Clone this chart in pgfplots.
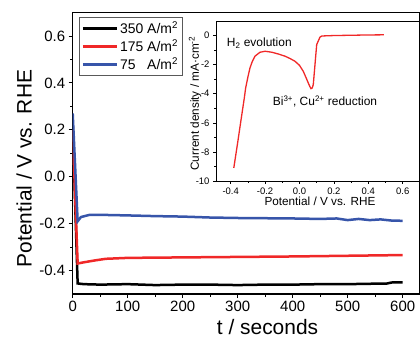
\documentclass[border=0pt]{standalone}
\usepackage{pgfplots}
\pgfplotsset{compat=1.18}
\usepackage{fontspec}
\setmainfont{Liberation Sans}
\definecolor{cred}{RGB}{240,40,40}
\definecolor{cblue}{RGB}{55,85,170}
\begin{document}
\begin{tikzpicture}
\useasboundingbox (0,0) rectangle (420bp,340bp);
\begin{axis}[
  at={(72.7bp,46bp)}, anchor=south west,
  scale only axis, width=347.3bp, height=281.5bp,
  xmin=0, xmax=631.5, ymin=-0.5, ymax=0.7,
  xtick={0,100,...,600}, ytick={-0.4,-0.2,0,0.2,0.4,0.6},
  minor x tick num=1, minor y tick num=1,
  tick align=outside, xtick pos=bottom, ytick pos=left,
  major tick length=4bp, minor tick length=2.5bp,
  every tick/.style={black, line width=0.9bp},
  axis line style={line width=1.1bp},
  /pgf/number format/assume math mode=true,
  yticklabel style={/pgf/number format/fixed, /pgf/number format/zerofill, /pgf/number format/precision=1},
  ticklabel style={font=\fontsize{15}{18}\selectfont},
  xlabel={t / seconds}, ylabel={Potential / V vs. RHE},
  label style={font=\fontsize{21}{25}\selectfont},
  xlabel style={at={(axis description cs:0.561,-0.143)}, anchor=base},
  ylabel style={at={(axis description cs:-0.140,0.446)}, anchor=center},
  legend style={at={(axis description cs:0.019,0.983)}, anchor=north west,
    font=\fontsize{14}{17}\selectfont, draw=gray!70!black, line width=0.6bp,
    inner xsep=2bp, inner ysep=2bp, row sep=0.5bp},
  legend cell align=left,
  legend image code/.code={\draw[#1] (0bp,0bp) -- (34bp,0bp);},
]
\addplot[black, line width=2.5bp] coordinates {
(0,0.22) (9,-0.455) (20,-0.458) (50,-0.46) (100,-0.458) (150,-0.462) (200,-0.46) (250,-0.46) (300,-0.462) (350,-0.46) (400,-0.46) (450,-0.458) (500,-0.458) (550,-0.456) (570,-0.456) (580,-0.451) (600,-0.45)};
\addlegendentry{350 A/m\textsuperscript{2}}
\addplot[cred, line width=2.5bp] coordinates {
(0,0.2) (9,-0.37) (20,-0.365) (40,-0.357) (60,-0.35) (100,-0.346) (150,-0.345) (200,-0.344) (300,-0.342) (400,-0.34) (500,-0.337) (600,-0.334)};
\addlegendentry{175 A/m\textsuperscript{2}}
\addplot[cblue, line width=2.5bp] coordinates {
(0,0.27) (9,-0.19) (15,-0.172) (30,-0.163) (60,-0.163) (100,-0.165) (150,-0.168) (200,-0.17) (250,-0.174) (300,-0.176) (350,-0.177) (400,-0.178) (450,-0.18) (480,-0.178) (500,-0.185) (520,-0.18) (540,-0.185) (560,-0.182) (580,-0.187) (600,-0.188)};
\addlegendentry{75\ \ \ A/m\textsuperscript{2}}
\end{axis}
\begin{axis}[
  at={(216bp,159bp)}, anchor=south west,
  scale only axis, width=203bp, height=160bp,
  xmin=-0.4855, xmax=0.6948, ymin=-10, ymax=1,
  axis background/.style={fill=white},
  xtick={-0.4,-0.2,0,0.2,0.4,0.6}, ytick={-10,-8,-6,-4,-2,0},
  minor x tick num=1, minor y tick num=1,
  tick align=outside, xtick pos=bottom, ytick pos=left,
  major tick length=3bp, minor tick length=2bp,
  every tick/.style={black, line width=0.6bp},
  axis line style={line width=0.8bp},
  /pgf/number format/assume math mode=true,
  xticklabel style={/pgf/number format/fixed, /pgf/number format/zerofill, /pgf/number format/precision=1},
  ticklabel style={font=\fontsize{9.5}{11}\selectfont},
  xlabel={Potential / V vs. RHE}, ylabel={Current density / mA·cm\textsuperscript{-2}},
  label style={font=\fontsize{11.8}{14}\selectfont},
  xlabel style={at={(axis description cs:0.512,-0.156)}, anchor=base},
  ylabel style={at={(axis description cs:-0.103,0.484)}, anchor=center},
]
\addplot[cred, line width=1.3bp] coordinates {
(0.49,0.05) (0.40,0.04) (0.30,0.02) (0.20,0.0) (0.13,-0.03) (0.119,-0.11) (0.10,-0.62) (0.095,-1.3) (0.09,-2.0) (0.085,-2.7) (0.08,-3.38) (0.074,-3.6) (0.067,-3.65) (0.06,-3.5) (0.051,-3.26) (0.04,-2.95) (0.022,-2.46) (0.0,-2.05) (-0.026,-1.77) (-0.055,-1.58) (-0.084,-1.42) (-0.12,-1.28) (-0.16,-1.15) (-0.20,-1.08) (-0.23,-1.15) (-0.259,-1.42) (-0.275,-1.8) (-0.288,-2.23) (-0.30,-2.85) (-0.313,-3.6) (-0.321,-4.3) (-0.34,-5.8) (-0.36,-7.4) (-0.382,-9.1)};
\node[anchor=west, font=\fontsize{12}{14}\selectfont, inner sep=0pt] at (axis cs:-0.423,-0.55) {H\textsubscript{2} evolution};
\node[anchor=west, font=\fontsize{12}{14}\selectfont, inner sep=0pt] at (axis cs:-0.156,-4.55) {Bi\textsuperscript{3+}, Cu\textsuperscript{2+} reduction};
\end{axis}
\end{tikzpicture}
\end{document}
